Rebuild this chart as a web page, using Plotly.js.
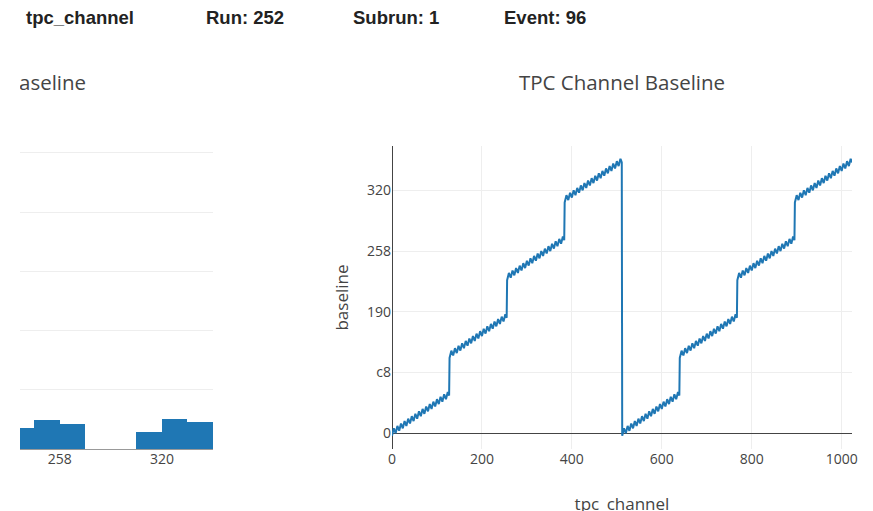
<!DOCTYPE html>
<html>
<head>
<meta charset="utf-8">
<script src="https://cdn.plot.ly/plotly-3.0.1.min.js"></script>
<style>
  html, body { margin:0; padding:0; width:873px; height:511px; overflow:hidden; background:#fff; }
  .hdr { position:absolute; top:7px; font-family:"Liberation Sans", Arial, sans-serif; font-weight:bold; font-size:18.5px; color:#222; white-space:nowrap; }
  #clip { position:absolute; left:20px; top:0; width:300px; height:511px; overflow:hidden; }
  #hist { position:absolute; left:-347px; top:46px; width:620px; height:484px; }
  #line { position:absolute; left:312px; top:46px; width:620px; height:484px; }
</style>
</head>
<body>
<div id="header"></div>
<div id="clip"><div id="hist"></div></div>
<div id="line"></div>
<script>
// ---- data ----
const headerItems = ["tpc_channel", "Run: 252", "Subrun: 1", "Event: 96"];
const segmentStartChannel = [0, 128, 256, 384, 512, 640, 768, 896];
const segmentStartBaseline = [0, 256, 512, 768, 0, 256, 512, 768];
const channelsPerSegment = 128;
// baseline offset of each channel inside an 8-channel group (the small zigzag)
const toothProfile = [-8, -2, 4, 10, 16, 12, 8, 4];
const chartTitle = "TPC Channel Baseline";
const histBins = { start: 0, end: 900, size: 50 };

// ---- header ----
const hdrLeft = [26, 206, 353, 504];
const header = document.getElementById("header");
headerItems.forEach((t, i) => {
  const s = document.createElement("span");
  s.className = "hdr"; s.style.left = hdrLeft[i] + "px"; s.textContent = t;
  header.appendChild(s);
});

// ---- build per-channel series ----
const channel = [], baseline = [];
segmentStartChannel.forEach((c0, s) => {
  for (let k = 0; k < channelsPerSegment; k++) {
    const g = Math.floor(k / toothProfile.length);
    channel.push(c0 + k);
    baseline.push(segmentStartBaseline[s] + g * toothProfile.length + toothProfile[k % toothProfile.length]);
  }
});

const blue = "#1f77b4";
const font = { family: '"Open Sans", verdana, arial, sans-serif', size: 14, color: "#444" };
const titleCfg = { text: chartTitle, font: { size: 20.5, color: "#444" }, x: 0.5, xref: "container", y: 0.924, yref: "container", yanchor: "middle" };
const margin = { l: 80, r: 80, t: 100, b: 81, pad: 0 };
const cfg = { displayModeBar: false, staticPlot: true };

// ---- left: histogram (cropped by the page) ----
Plotly.newPlot("hist", [{
  type: "histogram", x: baseline, xbins: histBins, autobinx: false,
  marker: { color: blue }
}], {
  width: 620, height: 484, margin: margin, font: font, title: titleCfg,
  showlegend: false, bargap: 0,
  xaxis: { range: [0, 900], tickformat: "x", tick0: 0, dtick: 200, showgrid: false, zeroline: false,
           title: { text: "baseline" } },
  yaxis: { range: [0, 1023], dtick: 200, gridcolor: "#eee", zeroline: true, zerolinecolor: "#999" },
  plot_bgcolor: "#fff", paper_bgcolor: "rgba(0,0,0,0)"
}, cfg);

// ---- right: channel baseline line ----
Plotly.newPlot("line", [{
  type: "scatter", mode: "lines", x: channel, y: baseline,
  line: { color: blue, width: 2 }
}], {
  width: 620, height: 484, margin: margin, font: font, title: titleCfg,
  showlegend: false,
  xaxis: { range: [0, 1023], tick0: 0, dtick: 200, gridcolor: "#eee", zeroline: true, zerolinecolor: "#444",
           title: { text: "tpc_channel" } },
  yaxis: { range: [-52, 946], tickformat: "x", tick0: 0, dtick: 200, gridcolor: "#eee", zeroline: true, zerolinecolor: "#444",
           title: { text: "baseline" } },
  plot_bgcolor: "#fff", paper_bgcolor: "rgba(0,0,0,0)"
}, cfg);
</script>
</body>
</html>
